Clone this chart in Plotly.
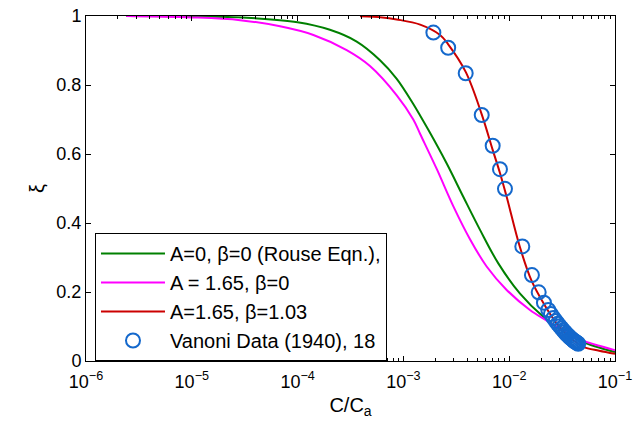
import plotly.graph_objects as go

# ---- data ----
rouse_x = [2.4e-6, 1.0e-5, 3.30e-5, 1.0e-4, 2.02e-4, 3.62e-4, 6.01e-4, 8.65e-4, 1.24e-3,
           1.72e-3, 2.56e-3, 3.68e-3, 5.30e-3, 7.89e-3, 1.26e-2, 2.10e-2, 3.16e-2,
           3.98e-2, 5.21e-2, 7.08e-2, 0.1]
rouse_y = [1.0, 0.999, 0.995, 0.982, 0.960, 0.926, 0.872, 0.818, 0.745,
           0.670, 0.573, 0.476, 0.380, 0.283, 0.196, 0.128, 0.088,
           0.070, 0.053, 0.039, 0.026]

a165_x = [2.4e-6, 1.0e-5, 2.86e-5, 6.82e-5, 1.41e-4, 2.91e-4, 4.83e-4, 8.65e-4, 1.24e-3,
          1.44e-3, 2.07e-3, 2.96e-3, 4.26e-3, 6.12e-3, 9.46e-3, 1.57e-2, 2.26e-2,
          3.16e-2, 3.98e-2, 5.21e-2, 7.08e-2, 0.1]
a165_y = [1.0, 0.996, 0.988, 0.970, 0.945, 0.901, 0.855, 0.770, 0.700,
          0.658, 0.556, 0.449, 0.353, 0.274, 0.206, 0.148, 0.117,
          0.090, 0.073, 0.057, 0.044, 0.031]

a165b_x = [3.89e-4, 6.31e-4, 8.65e-4, 1.44e-3, 2.22e-3, 2.65e-3, 3.88e-3, 5.50e-3, 6.98e-3,
           8.18e-3, 9.46e-3, 1.26e-2, 1.63e-2, 2.18e-2, 2.81e-2, 3.76e-2, 5.01e-2,
           7.08e-2, 0.1]
a165b_y = [0.999, 0.996, 0.990, 0.975, 0.945, 0.918, 0.838, 0.715, 0.612,
           0.545, 0.476, 0.331, 0.232, 0.160, 0.109, 0.068, 0.041,
           0.030, 0.021]

vanoni_x = [0.00192, 0.00265, 0.00388, 0.00550, 0.00698, 0.00818, 0.00912, 0.0133, 0.0164,
            0.0190, 0.0213, 0.0234, 0.0248, 0.0262, 0.0275, 0.0288, 0.0300, 0.0312,
            0.0324, 0.0335, 0.0346, 0.0357, 0.0368, 0.0379, 0.0390, 0.0400, 0.0410,
            0.0420, 0.0430, 0.0440, 0.0449]
vanoni_y = [0.952, 0.908, 0.834, 0.713, 0.624, 0.556, 0.499, 0.332, 0.249,
            0.199, 0.169, 0.148, 0.136, 0.125, 0.116, 0.108, 0.101, 0.095,
            0.089, 0.084, 0.079, 0.075, 0.071, 0.067, 0.064, 0.061, 0.058,
            0.056, 0.054, 0.052, 0.050]

x_tickvals = [1e-6, 1e-5, 1e-4, 1e-3, 1e-2, 1e-1]
x_ticktext = ["10<sup>−6</sup>", "10<sup>−5</sup>", "10<sup>−4</sup>",
              "10<sup>−3</sup>", "10<sup>−2</sup>", "10<sup>−1</sup>"]
y_tickvals = [0, 0.2, 0.4, 0.6, 0.8, 1]
y_ticktext = ["0", "0.2", "0.4", "0.6", "0.8", "1"]

FONT = "Liberation Sans, Arial, Helvetica, sans-serif"

fig = go.Figure()
fig.add_trace(go.Scatter(x=rouse_x, y=rouse_y, mode="lines", name="A=0, β=0 (Rouse Eqn.),",
                         line=dict(color="#008000", width=2, shape="spline", smoothing=1.0)))
fig.add_trace(go.Scatter(x=a165_x, y=a165_y, mode="lines", name="A = 1.65, β=0",
                         line=dict(color="#FF00FF", width=2, shape="spline", smoothing=1.0)))
fig.add_trace(go.Scatter(x=a165b_x, y=a165b_y, mode="lines", name="A=1.65, β=1.03",
                         line=dict(color="#CC0000", width=2, shape="spline", smoothing=1.0)))
fig.add_trace(go.Scatter(x=vanoni_x, y=vanoni_y, mode="markers", name="Vanoni Data (1940), 18",
                         marker=dict(symbol="circle-open", size=14, color="#1468CC",
                                     line=dict(width=2, color="#1468CC"))))

axis_common = dict(showgrid=False, zeroline=False, showline=True, linecolor="black",
                   linewidth=1, ticks="inside", tickcolor="black", mirror="allticks",
                   automargin=False,
                   tickfont=dict(family=FONT, size=18, color="black"))

fig.update_xaxes(type="log", range=[-6, -1], tickvals=x_tickvals, ticktext=x_ticktext,
                 ticklen=5, ticklabelstandoff=4,
                 minor=dict(ticks="inside", ticklen=3, tickcolor="black", dtick="D1"),
                 title=dict(text="C/C<sub>a</sub>", font=dict(family=FONT, size=20, color="black"),
                            standoff=7),
                 **axis_common)
fig.update_yaxes(range=[0, 1], tickvals=y_tickvals, ticktext=y_ticktext, ticklen=5,
                 title=dict(text="ξ", font=dict(family=FONT, size=20, color="black"), standoff=6),
                 **axis_common)

fig.update_layout(
    width=642, height=431,
    margin=dict(l=86, r=27, t=16, b=70),
    plot_bgcolor="white", paper_bgcolor="white",
    font=dict(family=FONT, size=18, color="black"),
    showlegend=True,
    legend=dict(x=0.017, y=0.371, xanchor="left", yanchor="top",
                bordercolor="black", borderwidth=1, bgcolor="white",
                font=dict(family=FONT, size=20, color="black"),
                traceorder="normal", itemwidth=64),
)

fig.write_html("out.html", config={"displayModeBar": False},
               post_script="document.body.style.margin='0px';")
